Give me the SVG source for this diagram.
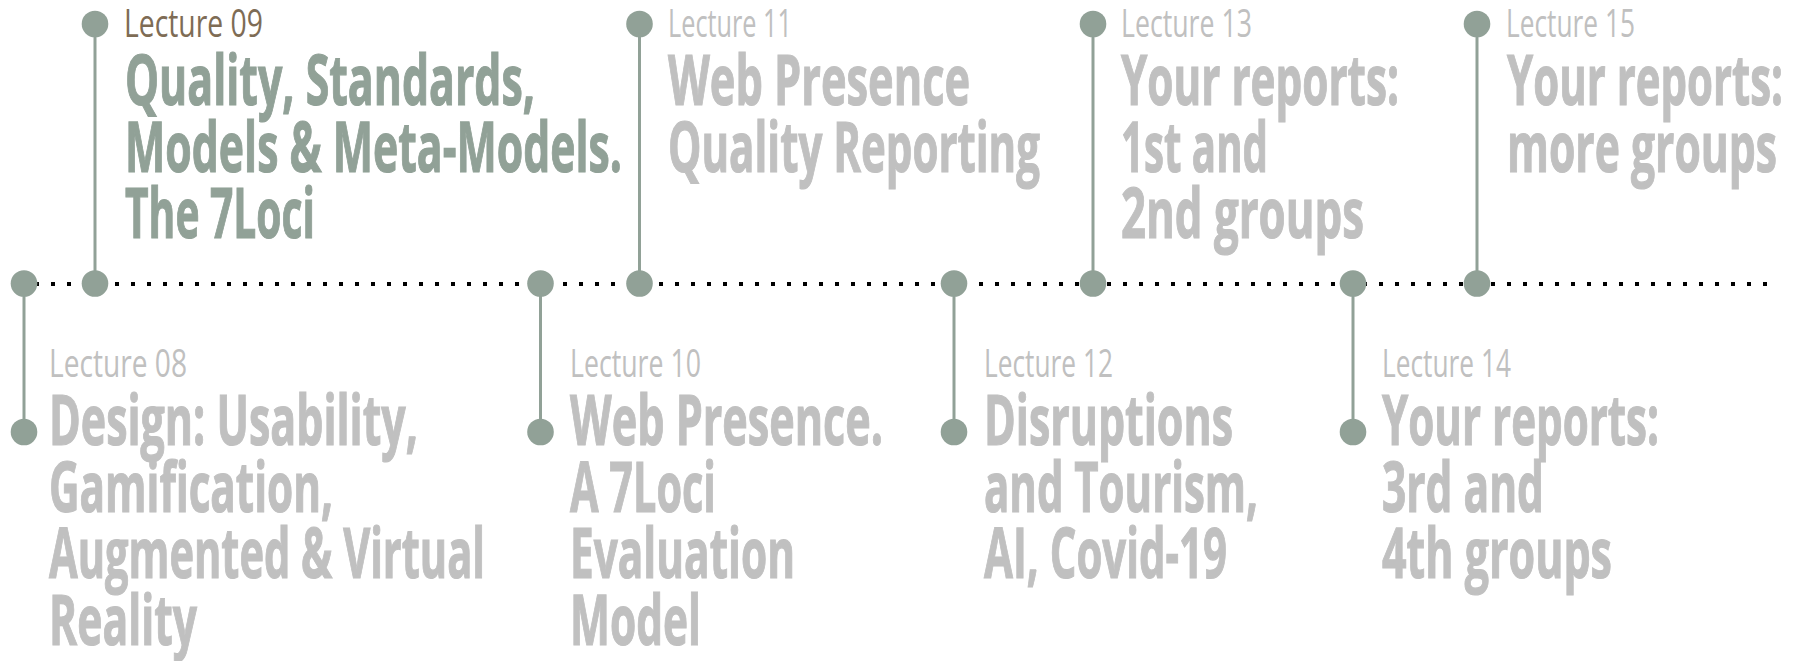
<svg xmlns="http://www.w3.org/2000/svg" width="1797" height="661" viewBox="0 0 1797 661">
  <style>
    .dot { fill: #91a197; }
    .stem { stroke: #91a197; stroke-width: 3; fill: none; }
    .axis { stroke: #000; stroke-width: 4; stroke-dasharray: 4 12; fill: none; }
    .lbl { font-family: 'Open Sans', 'Liberation Sans', sans-serif; font-weight: 400; font-size: 39px; fill: #c0c0c0; }
    .lbl.cur { fill: #7e6c55; }
    .ttl { font-family: 'Open Sans', 'Liberation Sans', sans-serif; font-weight: 700; font-size: 70px; fill: #c0c0c0; stroke: #c0c0c0; stroke-width: 1.2; }
    .ttl.cur { fill: #91a197; stroke: #91a197; }
  </style>
  <rect width="1797" height="661" fill="#ffffff"/>

  <!-- timeline axis and stems -->
  <g id="connectors">
    <line class="axis" x1="19" y1="284" x2="1768" y2="284"/>
    <line class="stem" x1="24" y1="283" x2="24" y2="432"/>
    <line class="stem" x1="95" y1="24" x2="95" y2="283"/>
    <line class="stem" x1="540.5" y1="283" x2="540.5" y2="432"/>
    <line class="stem" x1="639.5" y1="24" x2="639.5" y2="283"/>
    <line class="stem" x1="954" y1="283" x2="954" y2="432"/>
    <line class="stem" x1="1093" y1="24" x2="1093" y2="283"/>
    <line class="stem" x1="1353" y1="283" x2="1353" y2="432"/>
    <line class="stem" x1="1477" y1="24" x2="1477" y2="283"/>
  </g>

  <!-- Lecture 08 -->
  <g id="lecture-08">
    <circle class="dot" cx="24" cy="283.5" r="13.3"/>
    <circle class="dot" cx="24" cy="432" r="13.3"/>
    <text class="lbl" x="49" y="377" textLength="138" lengthAdjust="spacingAndGlyphs">Lecture 08</text>
    <text class="ttl" x="49" y="445" textLength="369" lengthAdjust="spacingAndGlyphs">Design: Usability,</text>
    <text class="ttl" x="49" y="511.7" textLength="284" lengthAdjust="spacingAndGlyphs">Gamification,</text>
    <text class="ttl" x="49" y="578.3" textLength="436" lengthAdjust="spacingAndGlyphs">Augmented &amp; Virtual</text>
    <text class="ttl" x="49" y="645" textLength="148" lengthAdjust="spacingAndGlyphs">Reality</text>
  </g>

  <!-- Lecture 09 (current) -->
  <g id="lecture-09">
    <circle class="dot" cx="95" cy="24" r="13.3"/>
    <circle class="dot" cx="95" cy="283.5" r="13.3"/>
    <text class="lbl cur" x="124" y="36.5" textLength="139" lengthAdjust="spacingAndGlyphs">Lecture 09</text>
    <text class="ttl cur" x="125" y="105" textLength="410" lengthAdjust="spacingAndGlyphs">Quality, Standards,</text>
    <text class="ttl cur" x="125" y="171.7" textLength="497" lengthAdjust="spacingAndGlyphs">Models &amp; Meta-Models.</text>
    <text class="ttl cur" x="125" y="238.3" textLength="190" lengthAdjust="spacingAndGlyphs">The 7Loci</text>
  </g>

  <!-- Lecture 10 -->
  <g id="lecture-10">
    <circle class="dot" cx="540.5" cy="283.5" r="13.3"/>
    <circle class="dot" cx="540.5" cy="432" r="13.3"/>
    <text class="lbl" x="570" y="377" textLength="131" lengthAdjust="spacingAndGlyphs">Lecture 10</text>
    <text class="ttl" x="570" y="445" textLength="313" lengthAdjust="spacingAndGlyphs">Web Presence.</text>
    <text class="ttl" x="570" y="511.7" textLength="146" lengthAdjust="spacingAndGlyphs">A 7Loci</text>
    <text class="ttl" x="570" y="578.3" textLength="225" lengthAdjust="spacingAndGlyphs">Evaluation</text>
    <text class="ttl" x="570" y="645" textLength="131" lengthAdjust="spacingAndGlyphs">Model</text>
  </g>

  <!-- Lecture 11 -->
  <g id="lecture-11">
    <circle class="dot" cx="639.5" cy="24" r="13.3"/>
    <circle class="dot" cx="639.5" cy="283.5" r="13.3"/>
    <text class="lbl" x="668" y="36.5" textLength="124" lengthAdjust="spacingAndGlyphs">Lecture 11</text>
    <text class="ttl" x="668" y="105" textLength="302" lengthAdjust="spacingAndGlyphs">Web Presence</text>
    <text class="ttl" x="668" y="171.7" textLength="372" lengthAdjust="spacingAndGlyphs">Quality Reporting</text>
  </g>

  <!-- Lecture 12 -->
  <g id="lecture-12">
    <circle class="dot" cx="954" cy="283.5" r="13.3"/>
    <circle class="dot" cx="954" cy="432" r="13.3"/>
    <text class="lbl" x="984" y="377" textLength="129" lengthAdjust="spacingAndGlyphs">Lecture 12</text>
    <text class="ttl" x="984" y="445" textLength="249" lengthAdjust="spacingAndGlyphs">Disruptions</text>
    <text class="ttl" x="984" y="511.7" textLength="274" lengthAdjust="spacingAndGlyphs">and Tourism,</text>
    <text class="ttl" x="984" y="578.3" textLength="243" lengthAdjust="spacingAndGlyphs">AI, Covid-19</text>
  </g>

  <!-- Lecture 13 -->
  <g id="lecture-13">
    <circle class="dot" cx="1093" cy="24" r="13.3"/>
    <circle class="dot" cx="1093" cy="283.5" r="13.3"/>
    <text class="lbl" x="1121" y="36.5" textLength="131" lengthAdjust="spacingAndGlyphs">Lecture 13</text>
    <text class="ttl" x="1121" y="105" textLength="278" lengthAdjust="spacingAndGlyphs">Your reports:</text>
    <text class="ttl" x="1121" y="171.7" textLength="147" lengthAdjust="spacingAndGlyphs">1st and</text>
    <text class="ttl" x="1121" y="238.3" textLength="243" lengthAdjust="spacingAndGlyphs">2nd groups</text>
  </g>

  <!-- Lecture 14 -->
  <g id="lecture-14">
    <circle class="dot" cx="1353" cy="283.5" r="13.3"/>
    <circle class="dot" cx="1353" cy="432" r="13.3"/>
    <text class="lbl" x="1382" y="377" textLength="129" lengthAdjust="spacingAndGlyphs">Lecture 14</text>
    <text class="ttl" x="1382" y="445" textLength="277" lengthAdjust="spacingAndGlyphs">Your reports:</text>
    <text class="ttl" x="1382" y="511.7" textLength="162" lengthAdjust="spacingAndGlyphs">3rd and</text>
    <text class="ttl" x="1382" y="578.3" textLength="230" lengthAdjust="spacingAndGlyphs">4th groups</text>
  </g>

  <!-- Lecture 15 -->
  <g id="lecture-15">
    <circle class="dot" cx="1477" cy="24" r="13.3"/>
    <circle class="dot" cx="1477" cy="283.5" r="13.3"/>
    <text class="lbl" x="1506" y="36.5" textLength="129" lengthAdjust="spacingAndGlyphs">Lecture 15</text>
    <text class="ttl" x="1507" y="105" textLength="276" lengthAdjust="spacingAndGlyphs">Your reports:</text>
    <text class="ttl" x="1507" y="171.7" textLength="270" lengthAdjust="spacingAndGlyphs">more groups</text>
  </g>
</svg>
